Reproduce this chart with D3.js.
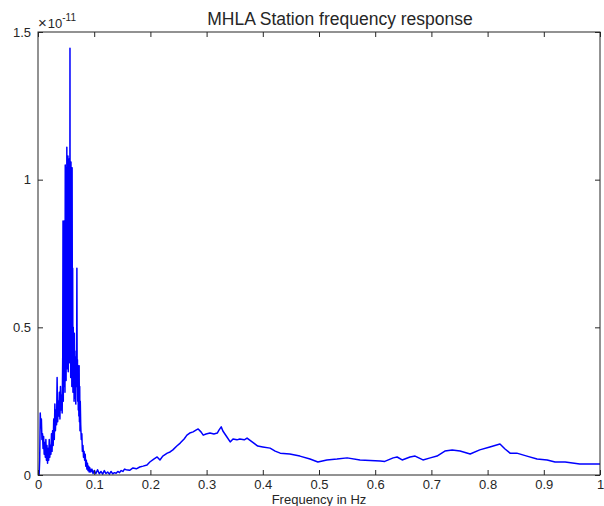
<!DOCTYPE html>
<html>
<head>
<meta charset="utf-8">
<script src="https://cdn.jsdelivr.net/npm/d3@7"></script>
<style>
  body { margin: 0; background: #fff; }
  text { font-family: "Liberation Sans", Arial, Helvetica, sans-serif; fill: #262626; }
</style>
</head>
<body>
<div id="chart"></div>
<script>
// frequency (Hz) and amplitude (x 1e-11)
const freq = [
    0.000, 0.002, 0.003, 0.004, 0.005, 0.006, 0.007, 0.008, 0.009, 0.010,
    0.011, 0.012, 0.013, 0.014, 0.015, 0.016, 0.017, 0.018, 0.019, 0.020,
    0.021, 0.022, 0.023, 0.024, 0.025, 0.026, 0.027, 0.028, 0.029, 0.030,
    0.031, 0.032, 0.033, 0.034, 0.035, 0.036, 0.037, 0.038, 0.039, 0.040,
    0.041, 0.042, 0.043, 0.044,
    0.0445, 0.0450, 0.0455, 0.0460, 0.0465, 0.0470, 0.0475, 0.0480, 0.0485, 0.0490,
    0.0495, 0.0500, 0.0505, 0.0510, 0.0513, 0.0518, 0.0523, 0.0528, 0.0533, 0.0538,
    0.0543, 0.0548, 0.0553, 0.0558, 0.0563, 0.0566, 0.0569, 0.0572, 0.0577, 0.0582,
    0.0587, 0.0592, 0.0597, 0.0602, 0.0607, 0.0612, 0.0617, 0.0622, 0.0627, 0.0632,
    0.0637, 0.0642, 0.0647, 0.0652, 0.0657, 0.0662, 0.0667, 0.0672, 0.0677, 0.0682,
    0.0687, 0.0692, 0.0697, 0.0702, 0.0707, 0.0712, 0.0717, 0.0722, 0.0727, 0.0732,
    0.0737, 0.0742, 0.0747, 0.0752,
    0.076, 0.077, 0.078, 0.079, 0.080, 0.081, 0.082, 0.083, 0.084, 0.085,
    0.086, 0.087, 0.088, 0.089, 0.090, 0.091, 0.092, 0.094, 0.096, 0.098, 0.100,
    0.103, 0.106, 0.109, 0.112, 0.115, 0.118, 0.121, 0.124, 0.127, 0.130,
    0.133, 0.136, 0.139, 0.142, 0.145, 0.148, 0.151, 0.154, 0.157,
    0.163, 0.169, 0.175, 0.181, 0.187, 0.194, 0.199, 0.206, 0.212, 0.217, 0.222, 0.230,
    0.235, 0.240, 0.247, 0.253, 0.260, 0.265, 0.270, 0.276, 0.281, 0.285,
    0.290, 0.294, 0.299, 0.306, 0.313, 0.319, 0.322, 0.326, 0.329, 0.335,
    0.342, 0.347, 0.354, 0.359, 0.367, 0.372, 0.381, 0.391, 0.400, 0.413,
    0.422, 0.431, 0.448, 0.466, 0.484, 0.498, 0.514, 0.532, 0.550, 0.573,
    0.609, 0.617, 0.632, 0.639, 0.648, 0.662, 0.671, 0.685, 0.698, 0.710,
    0.724, 0.737, 0.751, 0.769, 0.786, 0.804, 0.822, 0.831, 0.840, 0.852,
    0.870, 0.888, 0.906, 0.920, 0.938, 0.964, 1.000
];
const amp = [
    0.00, 0.00, 0.05, 0.21, 0.16, 0.19, 0.12, 0.14, 0.09, 0.13,
    0.07, 0.11, 0.06, 0.12, 0.05, 0.10, 0.04, 0.09, 0.05, 0.12,
    0.06, 0.10, 0.07, 0.14, 0.08, 0.15, 0.10, 0.19, 0.12, 0.24,
    0.15, 0.22, 0.17, 0.33, 0.18, 0.25, 0.20, 0.28, 0.19, 0.30,
    0.22, 0.27, 0.21, 0.40,
    0.86, 0.25, 0.72, 0.30, 0.86, 0.35, 0.80, 0.28, 1.05, 0.40,
    0.98, 0.32, 1.04, 0.45, 1.11, 0.36, 0.95, 0.42, 1.08, 0.35,
    1.02, 0.48, 1.07, 0.38, 0.92, 0.50, 1.445, 0.42, 0.98, 0.33,
    1.06, 0.40, 0.85, 0.30, 1.04, 0.36, 0.70, 0.28, 0.50, 0.30,
    0.45, 0.25, 0.48, 0.30, 0.42, 0.26, 0.40, 0.24, 0.38, 0.30,
    0.36, 0.70, 0.30, 0.39, 0.25, 0.37, 0.22, 0.35, 0.20, 0.37,
    0.18, 0.30, 0.15, 0.25,
    0.17, 0.12, 0.14, 0.08, 0.10, 0.06, 0.08, 0.05, 0.07, 0.03,
    0.05, 0.02, 0.04, 0.015, 0.03, 0.01, 0.025, 0.01, 0.02, 0.005, 0.015,
    0.005, 0.018, 0.004, 0.012, 0.003, 0.015, 0.005, 0.010, 0.003, 0.012,
    0.004, 0.008, 0.006, 0.012, 0.008, 0.015, 0.012, 0.020, 0.018,
    0.016, 0.024, 0.021, 0.027, 0.030, 0.034, 0.044, 0.054, 0.061, 0.051, 0.064, 0.074,
    0.078, 0.085, 0.098, 0.108, 0.122, 0.135, 0.142, 0.146, 0.152, 0.156,
    0.146, 0.135, 0.139, 0.142, 0.139, 0.142, 0.152, 0.163, 0.149, 0.132,
    0.112, 0.122, 0.119, 0.122, 0.119, 0.125, 0.112, 0.098, 0.095, 0.091,
    0.081, 0.074, 0.071, 0.064, 0.054, 0.044, 0.051, 0.054, 0.058, 0.051,
    0.047, 0.046, 0.058, 0.061, 0.051, 0.061, 0.064, 0.051, 0.058, 0.064,
    0.081, 0.085, 0.081, 0.071, 0.085, 0.095, 0.105, 0.088, 0.074, 0.074,
    0.064, 0.054, 0.051, 0.044, 0.044, 0.037, 0.037
];
const xTicks = [0, 0.1, 0.2, 0.3, 0.4, 0.5, 0.6, 0.7, 0.8, 0.9, 1];
const yTicks = [0, 0.5, 1, 1.5];

const margin = {top: 32, right: 4, bottom: 31, left: 38};
const width = 604 - margin.left - margin.right;
const height = 506 - margin.top - margin.bottom;

const svg = d3.select("#chart").append("svg")
    .attr("width", 604)
    .attr("height", 506)
    .append("g")
    .attr("transform", `translate(${margin.left},${margin.top})`);

const x = d3.scaleLinear().domain([0, 1]).range([0, width]);
const y = d3.scaleLinear().domain([0, 1.5]).range([height, 0]);

// the trace
const points = freq.map((f, i) => [f, amp[i]]);
svg.append("path")
    .datum(points)
    .attr("fill", "none")
    .attr("stroke", "#0000ff")
    .attr("stroke-width", 1.5)
    .attr("stroke-linejoin", "round")
    .attr("d", d3.line().x(d => x(d[0])).y(d => y(d[1])));

// axes, ticks pointing inward like MATLAB
const fmt = d => d3.format("~g")(d);
const styleAxis = g => {
    g.selectAll("line").attr("stroke", "#262626");
    g.select(".domain").remove();
    g.selectAll("text").style("font-size", "13px").attr("fill", "#262626");
};

svg.append("g")
    .attr("transform", `translate(0,${height})`)
    .call(d3.axisBottom(x).tickValues(xTicks).tickFormat(fmt).tickSizeInner(-5).tickSizeOuter(0).tickPadding(5))
    .call(styleAxis);
svg.append("g")
    .call(d3.axisTop(x).tickValues(xTicks).tickFormat("").tickSizeInner(-5).tickSizeOuter(0))
    .call(styleAxis);
svg.append("g")
    .call(d3.axisLeft(y).tickValues(yTicks).tickFormat(fmt).tickSizeInner(-5).tickSizeOuter(0).tickPadding(7))
    .call(styleAxis);
svg.append("g")
    .attr("transform", `translate(${width},0)`)
    .call(d3.axisRight(y).tickValues(yTicks).tickFormat("").tickSizeInner(-5).tickSizeOuter(0))
    .call(styleAxis);

// box
svg.append("rect")
    .attr("width", width)
    .attr("height", height)
    .attr("fill", "none")
    .attr("stroke", "#262626")
    .attr("stroke-width", 1);

// exponent label
const expo = svg.append("text")
    .attr("x", 0)
    .attr("y", -4)
    .style("font-size", "13px");
expo.append("tspan").style("font-size", "15px").text("\u00d7");
expo.append("tspan").attr("dx", 1).text("10");
expo.append("tspan").attr("dy", -7).style("font-size", "10px").text("-11");

// title (sits a little right of the axes centre in the original)
svg.append("text")
    .attr("x", 302)
    .attr("y", -7)
    .attr("text-anchor", "middle")
    .style("font-size", "17.5px")
    .attr("fill", "#000")
    .text("MHLA Station frequency response");

// x label
svg.append("text")
    .attr("x", width / 2)
    .attr("y", height + 29)
    .attr("text-anchor", "middle")
    .style("font-size", "13px")
    .text("Frequency in Hz");
</script>
</body>
</html>
